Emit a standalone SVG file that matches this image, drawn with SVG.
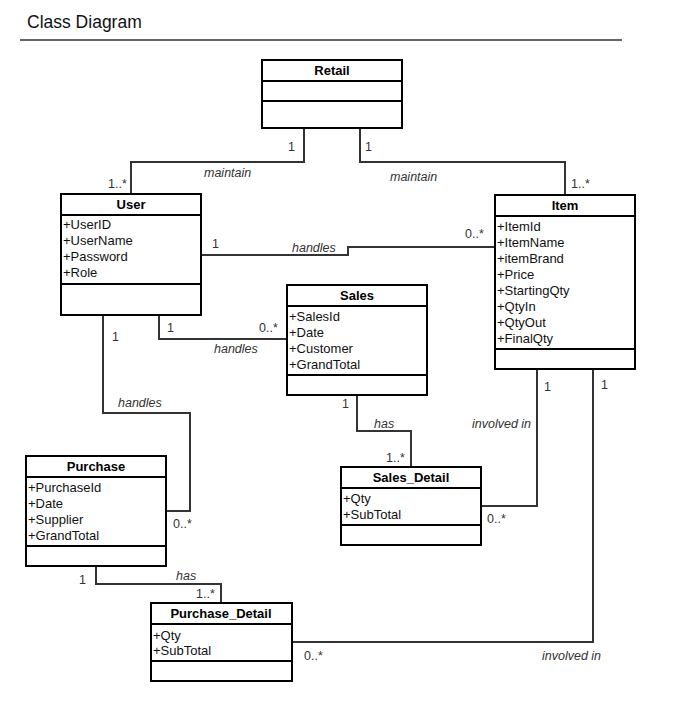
<svg xmlns="http://www.w3.org/2000/svg" width="700" height="701" viewBox="0 0 700 701">
<style>
text{font-family:"Liberation Sans",Arial,sans-serif;}
.box{fill:#fff;stroke:#000;stroke-width:2;}
.div{stroke:#000;stroke-width:2;}
.name{font-size:13px;font-weight:bold;text-anchor:middle;fill:#000;}
.attr{font-size:13px;fill:#111;}
.conn path{fill:none;stroke:#333;stroke-width:2;}
.lbl{font-size:12.5px;fill:#333;}
.it{font-size:12.5px;font-style:italic;fill:#333;}
</style>
<rect width="700" height="701" fill="#fff"/>
<text x="27" y="28" style="font-size:17.5px;fill:#111">Class Diagram</text>
<line x1="20" y1="40" x2="622" y2="40" stroke="#333" stroke-width="1.5"/>

<g id="connectors" class="conn">
<path d="M304,129 V162 H131 V194"/>
<path d="M360,129 V162 H565 V195"/>
<path d="M201,255 H348 V247 H495"/>
<path d="M159,315 V339 H287"/>
<path d="M103,315 V413 H190 V511 H166"/>
<path d="M357,395 V431 H411 V467"/>
<path d="M537,370 V506 H481"/>
<path d="M593,370 V642 H292"/>
<path d="M96,566 V584 H221 V603"/>
</g>

<g id="labels">
<text class="lbl" x="288" y="151">1</text>
<text class="lbl" x="365" y="151">1</text>
<text class="it" x="204" y="177">maintain</text>
<text class="it" x="390" y="181">maintain</text>
<text class="lbl" x="108" y="188">1..*</text>
<text class="lbl" x="571" y="188">1..*</text>
<text class="lbl" x="212" y="248">1</text>
<text class="it" x="292" y="252">handles</text>
<text class="lbl" x="465" y="238">0..*</text>
<text class="lbl" x="167" y="332">1</text>
<text class="lbl" x="259" y="332">0..*</text>
<text class="it" x="214" y="353">handles</text>
<text class="lbl" x="112" y="341">1</text>
<text class="it" x="118" y="407">handles</text>
<text class="lbl" x="173" y="528">0..*</text>
<text class="lbl" x="342" y="408">1</text>
<text class="it" x="374" y="428">has</text>
<text class="lbl" x="386" y="462">1..*</text>
<text class="lbl" x="544" y="391">1</text>
<text class="it" x="472" y="428">involved in</text>
<text class="lbl" x="487" y="523">0..*</text>
<text class="lbl" x="601" y="389">1</text>
<text class="it" x="542" y="660">involved in</text>
<text class="lbl" x="304" y="660">0..*</text>
<text class="lbl" x="79" y="584">1</text>
<text class="it" x="176" y="580">has</text>
<text class="lbl" x="196" y="598">1..*</text>
</g>

<g id="Retail">
<rect class="box" x="262" y="60" width="140" height="68"/>
<line class="div" x1="262" y1="81" x2="402" y2="81"/>
<line class="div" x1="262" y1="101" x2="402" y2="101"/>
<text class="name" x="332" y="75">Retail</text>
</g>

<g id="User">
<rect class="box" x="61" y="194" width="140" height="121"/>
<line class="div" x1="61" y1="215" x2="201" y2="215"/>
<line class="div" x1="61" y1="284" x2="201" y2="284"/>
<text class="name" x="131" y="209">User</text>
<text class="attr" x="63" y="229">+UserID</text>
<text class="attr" x="63" y="245">+UserName</text>
<text class="attr" x="63" y="261">+Password</text>
<text class="attr" x="63" y="277">+Role</text>
</g>

<g id="Item">
<rect class="box" x="495" y="195" width="140" height="174"/>
<line class="div" x1="495" y1="216" x2="635" y2="216"/>
<line class="div" x1="495" y1="349" x2="635" y2="349"/>
<text class="name" x="565" y="210">Item</text>
<text class="attr" x="497" y="231">+ItemId</text>
<text class="attr" x="497" y="247">+ItemName</text>
<text class="attr" x="497" y="263">+itemBrand</text>
<text class="attr" x="497" y="279">+Price</text>
<text class="attr" x="497" y="295">+StartingQty</text>
<text class="attr" x="497" y="311">+QtyIn</text>
<text class="attr" x="497" y="327">+QtyOut</text>
<text class="attr" x="497" y="343">+FinalQty</text>
</g>

<g id="Sales">
<rect class="box" x="287" y="285" width="140" height="110"/>
<line class="div" x1="287" y1="306" x2="427" y2="306"/>
<line class="div" x1="287" y1="375" x2="427" y2="375"/>
<text class="name" x="357" y="300">Sales</text>
<text class="attr" x="289" y="321">+SalesId</text>
<text class="attr" x="289" y="337">+Date</text>
<text class="attr" x="289" y="353">+Customer</text>
<text class="attr" x="289" y="369">+GrandTotal</text>
</g>

<g id="Purchase">
<rect class="box" x="26" y="456" width="140" height="110"/>
<line class="div" x1="26" y1="477" x2="166" y2="477"/>
<line class="div" x1="26" y1="546" x2="166" y2="546"/>
<text class="name" x="96" y="471">Purchase</text>
<text class="attr" x="28" y="492">+PurchaseId</text>
<text class="attr" x="28" y="508">+Date</text>
<text class="attr" x="28" y="524">+Supplier</text>
<text class="attr" x="28" y="540">+GrandTotal</text>
</g>

<g id="Sales_Detail">
<rect class="box" x="341" y="467" width="140" height="78"/>
<line class="div" x1="341" y1="488" x2="481" y2="488"/>
<line class="div" x1="341" y1="525" x2="481" y2="525"/>
<text class="name" x="411" y="482">Sales_Detail</text>
<text class="attr" x="343" y="503">+Qty</text>
<text class="attr" x="343" y="519">+SubTotal</text>
</g>

<g id="Purchase_Detail">
<rect class="box" x="151" y="603" width="141" height="78"/>
<line class="div" x1="151" y1="624" x2="292" y2="624"/>
<line class="div" x1="151" y1="661" x2="292" y2="661"/>
<text class="name" x="221" y="618">Purchase_Detail</text>
<text class="attr" x="153" y="640">+Qty</text>
<text class="attr" x="153" y="655">+SubTotal</text>
</g>
</svg>
